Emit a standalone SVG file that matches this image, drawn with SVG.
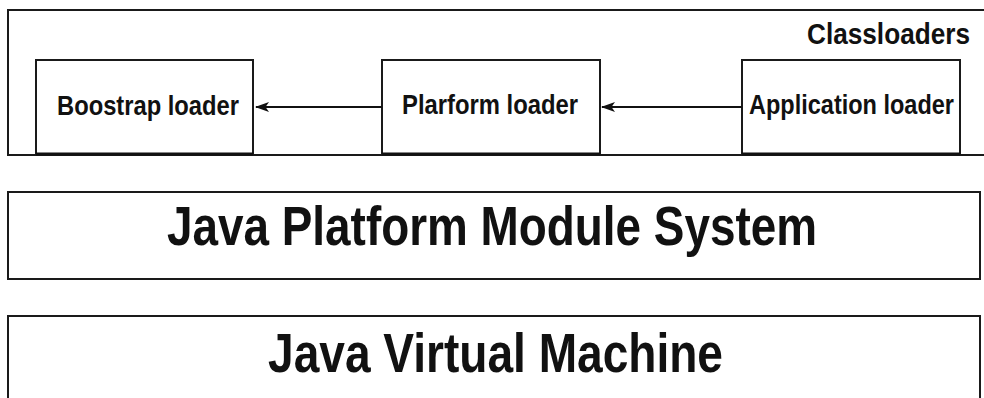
<svg xmlns="http://www.w3.org/2000/svg" width="984" height="398" viewBox="0 0 984 398">
<style>
.box{fill:#fff;stroke:#1a1a1a;stroke-width:2}
.lbl{font-family:"Liberation Sans",Arial,sans-serif;font-weight:bold;fill:#111}
.sm{font-size:28px}
.big{font-size:56px}
.conn{stroke:#111;stroke-width:1.8;fill:none}
</style>
<defs>
<marker id="ah" viewBox="0 0 14 10" refX="13" refY="5" markerWidth="14" markerHeight="10" markerUnits="userSpaceOnUse" orient="auto">
<path d="M0,0 L14,5 L0,10 L3.5,5 Z" fill="#111"/>
</marker>
</defs>
<rect width="984" height="398" fill="#fff"/>
<g id="classloaders">
<path d="M984,10 H8 V155 H984" fill="#fff" stroke="#1a1a1a" stroke-width="2"/>
<text class="lbl" x="970" y="44" font-size="29" text-anchor="end" textLength="163" lengthAdjust="spacingAndGlyphs">Classloaders</text>
</g>
<g id="bootstrap">
<rect class="box" x="36" y="60" width="217" height="94"/>
<line x1="36" y1="154" x2="253" y2="154" stroke="#111" stroke-width="3"/>
<text class="lbl sm" x="57" y="115" textLength="182" lengthAdjust="spacingAndGlyphs">Boostrap loader</text>
</g>
<g id="platform">
<rect class="box" x="382" y="60" width="218" height="94"/>
<line x1="382" y1="154" x2="600" y2="154" stroke="#111" stroke-width="3"/>
<text class="lbl sm" x="402" y="114" textLength="176" lengthAdjust="spacingAndGlyphs">Plarform loader</text>
</g>
<g id="application">
<rect class="box" x="742" y="60" width="218" height="94"/>
<line x1="742" y1="154" x2="960" y2="154" stroke="#111" stroke-width="3"/>
<text class="lbl sm" x="749" y="114" textLength="205" lengthAdjust="spacingAndGlyphs">Application loader</text>
</g>
<g id="jpms">
<rect class="box" x="8" y="192" width="972" height="87"/>
<text class="lbl big" x="167" y="245" textLength="650" lengthAdjust="spacingAndGlyphs">Java Platform Module System</text>
</g>
<g id="jvm">
<rect class="box" x="8" y="316" width="972" height="100"/>
<text class="lbl big" x="268" y="372" textLength="455" lengthAdjust="spacingAndGlyphs">Java Virtual Machine</text>
</g>
<g id="connectors">
<line class="conn" x1="382" y1="107" x2="256" y2="107" marker-end="url(#ah)"/>
<line class="conn" x1="742" y1="107" x2="602" y2="107" marker-end="url(#ah)"/>
</g>
</svg>
